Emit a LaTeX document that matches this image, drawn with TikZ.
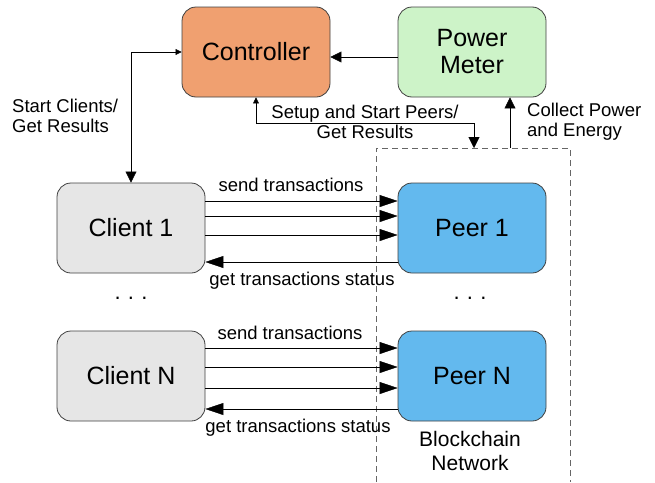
\documentclass[tikz,border=0pt]{standalone}
\usepackage{fontspec}
\setmainfont{Liberation Sans}
\usetikzlibrary{arrows.meta}
\definecolor{ctrlfill}{HTML}{F0A070}
\definecolor{meterfill}{HTML}{CDF3C8}
\definecolor{clientfill}{HTML}{E6E6E6}
\definecolor{peerfill}{HTML}{63B9EE}
\begin{document}
\begin{tikzpicture}[x=1pt, y=-1pt,
		blockbox/.style={draw=black!75, line width=0.8pt, rounded corners=14pt, minimum width=148pt, minimum height=90pt, align=center, font=\fontsize{25}{27}\selectfont},
		lbl/.style={font=\fontsize{18.5}{20}\selectfont, inner sep=0pt},
		big/.style={-{Triangle[length=18pt,width=12pt]}},
		mid/.style={-{Triangle[length=11pt,width=11pt]}},
		twoway/.style={{Triangle[length=6pt,width=6pt]}-{Triangle[length=11pt,width=11pt]}}]
				\useasboundingbox (0,0) rectangle (655,482);
				
				%boxes
				\node[blockbox, fill=ctrlfill] (ctrl) at (256, 52){Controller};
				\node[blockbox, fill=meterfill] (meter) at (472, 52){Power\\Meter};
				\node[blockbox, fill=clientfill] (client1) at (131, 228){Client 1};
				\node[blockbox, fill=peerfill] (peer1) at (472, 228){Peer 1};
				\node[blockbox, fill=clientfill] (clientn) at (131, 376){Client N};
				\node[blockbox, fill=peerfill] (peern) at (472, 376){Peer N};
				
				%blockchain network region
				\draw[dash pattern=on 6pt off 4pt, black!60, line width=0.8pt] (376, 482) -- (376, 148) -- (570, 148) -- (570, 482);
				\coordinate (nettop) at (474, 148);
				\coordinate (pwrtap) at (510, 148);
				\node[lbl, align=center, font=\fontsize{21}{24}\selectfont] (netlbl) at (470, 451){Blockchain\\Network};
				
				%control links
				\draw[mid] ([yshift=-5pt]meter.west) -- ([yshift=-5pt]ctrl.east);
				\draw[twoway] (ctrl.west) -| (client1.north);
				\draw[twoway] (ctrl.south) -- (ctrl.south |- 0, 123) -| (nettop);
				\draw[mid] (pwrtap) -- (pwrtap |- meter.south);
				\node[lbl, align=left, anchor=west] (startlbl) at (12, 116){Start Clients/\\Get Results};
				\node[lbl, align=center] (setuplbl) at (365, 122){Setup and Start Peers/\\Get Results};
				\node[lbl, align=left, anchor=west] (collectlbl) at (527, 122){Collect Power\\and Energy};
				
				%client 1 to peer 1
				\foreach \d in {27, 12, -7}{
					\draw[big] ([yshift=\d pt]client1.east) -- ([yshift=\d pt]peer1.west);
				}
				\draw[big] ([yshift=-34pt]peer1.west) -- ([yshift=-34pt]client1.east);
				\node[lbl] (send1) at (291, 185){send transactions};
				\node[lbl] (get1) at (302, 281){get transactions status};
				
				%client N to peer N
				\foreach \d in {28, 9, -12}{
					\draw[big] ([yshift=\d pt]clientn.east) -- ([yshift=\d pt]peern.west);
				}
				\draw[big] ([yshift=-33pt]peern.west) -- ([yshift=-33pt]clientn.east);
				\node[lbl] (sendn) at (290, 333){send transactions};
				\node[lbl] (getn) at (298, 428){get transactions status};
				
				%dots
				\node[lbl, font=\fontsize{22}{24}\selectfont] (dotsc) at (131, 298){.\,\,.\,\,.};
				\node[lbl, font=\fontsize{22}{24}\selectfont] (dotsp) at (470, 298){.\,\,.\,\,.};
			\end{tikzpicture}
\end{document}
